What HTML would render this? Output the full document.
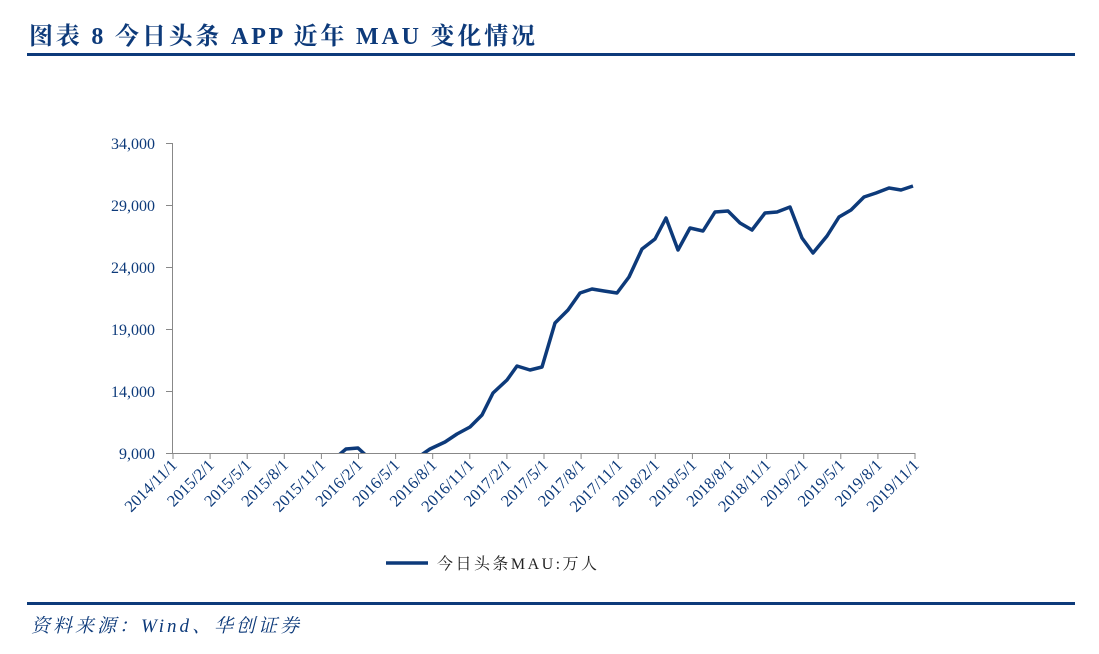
<!DOCTYPE html>
<html><head><meta charset="utf-8"><style>
html,body{margin:0;padding:0;background:#fff;}
body{width:1099px;height:654px;position:relative;overflow:hidden;}
</style></head><body>
<svg width="1099" height="654" viewBox="0 0 1099 654" xmlns="http://www.w3.org/2000/svg" style="position:absolute;left:0;top:0">
<text x="29" y="44" textLength="506" lengthAdjust="spacing" font-family="'Liberation Serif','Noto Serif CJK SC',serif" font-weight="bold" font-size="24" fill="#0d3a7a">图表 8  今日头条 APP 近年 MAU 变化情况</text>
<rect x="27" y="53" width="1048" height="3" fill="#0d3a7a"/>
<rect x="27" y="602" width="1048" height="3" fill="#0d3a7a"/>
<text x="31" y="632" textLength="268" lengthAdjust="spacing" font-family="'Liberation Serif','Noto Serif CJK SC',serif" font-style="italic" font-size="19" fill="#0d3a7a">资料来源：Wind、华创证券</text>
<g font-family="'Liberation Serif',serif" font-size="16" fill="#0d3a7a" text-anchor="end">
<text x="155" y="149">34,000</text>
<text x="155" y="211">29,000</text>
<text x="155" y="273">24,000</text>
<text x="155" y="335">19,000</text>
<text x="155" y="397">14,000</text>
<text x="155" y="459">9,000</text>
</g>
<g stroke="#888" stroke-width="1" fill="none">
<line x1="172.5" y1="143" x2="172.5" y2="454"/>
<line x1="166" y1="143.5" x2="172" y2="143.5"/>
<line x1="166" y1="205.5" x2="172" y2="205.5"/>
<line x1="166" y1="267.5" x2="172" y2="267.5"/>
<line x1="166" y1="329.5" x2="172" y2="329.5"/>
<line x1="166" y1="391.5" x2="172" y2="391.5"/>
<line x1="166" y1="453.5" x2="915" y2="453.5"/>
</g>
<g stroke="#888" stroke-width="1" id="ticks"></g>
<clipPath id="c"><rect x="172" y="100" width="760" height="353"/></clipPath>
<g clip-path="url(#c)" fill="none" stroke="#0d3a7a" stroke-width="3.5" stroke-linejoin="round">
<polyline points="333,460 346,449 358,448 371,460"/>
<polyline points="414,460 430,449 445,442 457,434 470,427 482,415 493,393 507,380 517,366 530,370 542,367 555,323 568,310 580,293 592,289 604,291 617,293 629,277 642,249 655,239 666,218 678,250 690,228 703,231 715,212 728,211 740,223 752,230 765,213 777,212 790,207 802,238 813,253 827,236 839,217 851,210 864,197 876,193 889,188 901,190 913,186"/>
</g>
<g id="labels" font-family="'Liberation Serif',serif" font-size="16.5" fill="#0d3a7a" text-anchor="end"></g>
<line x1="386" y1="563" x2="428" y2="563" stroke="#0d3a7a" stroke-width="3.5"/>
<text x="437" y="569" textLength="160" lengthAdjust="spacing" font-family="'Liberation Serif','Noto Serif CJK SC',serif" font-size="16" fill="#222">今日头条MAU:万人</text>
</svg>
<script>
var ns="http://www.w3.org/2000/svg";
var labs=["2014/11/1","2015/2/1","2015/5/1","2015/8/1","2015/11/1","2016/2/1","2016/5/1","2016/8/1","2016/11/1","2017/2/1","2017/5/1","2017/8/1","2017/11/1","2018/2/1","2018/5/1","2018/8/1","2018/11/1","2019/2/1","2019/5/1","2019/8/1","2019/11/1"];
var t=document.getElementById("ticks"),L=document.getElementById("labels");
for(var i=0;i<labs.length;i++){var x=173+i*37.1;
var l=document.createElementNS(ns,"line");l.setAttribute("x1",x);l.setAttribute("x2",x);l.setAttribute("y1",453);l.setAttribute("y2",459);t.appendChild(l);
var tx=document.createElementNS(ns,"text");tx.setAttribute("transform","translate("+(x+5)+",466) rotate(-45)");tx.textContent=labs[i];L.appendChild(tx);}
</script>
</body></html>
